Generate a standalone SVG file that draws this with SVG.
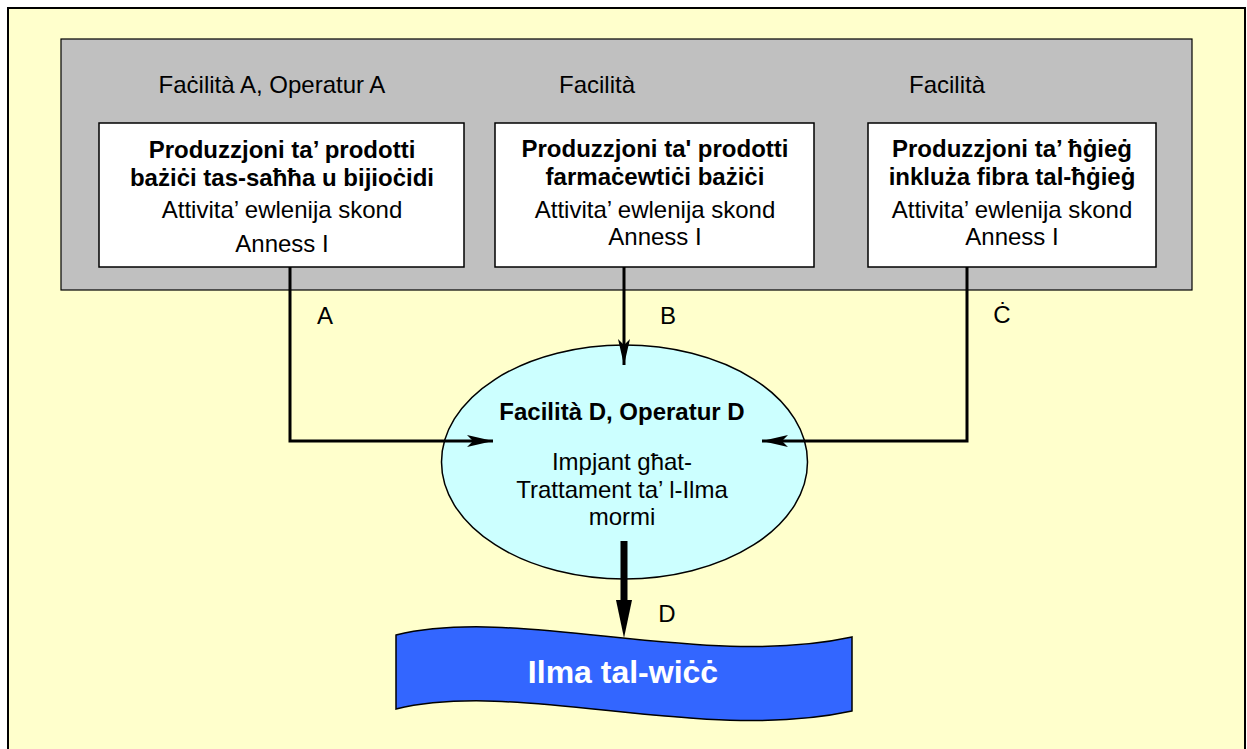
<svg xmlns="http://www.w3.org/2000/svg" width="1247" height="749" viewBox="0 0 1247 749">
<defs>
<style>
.t{font-family:"Liberation Sans",Arial,sans-serif;font-size:24px;fill:#000;text-anchor:middle}
.b{font-weight:bold}
.box{fill:#fff;stroke:#000;stroke-width:1.5}
.con{fill:none;stroke:#000;stroke-width:3}
</style>
<marker id="ah" markerWidth="26" markerHeight="12" refX="26" refY="6" orient="auto" markerUnits="userSpaceOnUse">
<path d="M0,0 L26,6 L0,12 L6,6 Z" fill="#000"/>
</marker>
</defs>
<rect x="8" y="8" width="1237" height="760" fill="#FFFFCC" stroke="#000" stroke-width="2"/>
<g id="group">
<rect x="61" y="39" width="1131" height="251" fill="#C0C0C0" stroke="#000" stroke-width="1.2"/>
<text class="t" x="272" y="93">Faċilità A, Operatur A</text>
<text class="t" x="597" y="93">Facilità</text>
<text class="t" x="947" y="93">Facilità</text>
</g>
<g id="nodeA">
<rect class="box" x="99" y="123" width="365" height="144"/>
<text class="t b" x="282" y="158">Produzzjoni ta’ prodotti</text>
<text class="t b" x="282" y="186">bażiċi tas-saħħa u bijioċidi</text>
<text class="t" x="282" y="218">Attivita’ ewlenija skond</text>
<text class="t" x="282" y="252">Anness I</text>
</g>
<g id="nodeB">
<rect class="box" x="495" y="123" width="319" height="144"/>
<text class="t b" x="655" y="157">Produzzjoni ta' prodotti</text>
<text class="t b" x="655" y="185">farmaċewtiċi bażiċi</text>
<text class="t" x="655" y="218">Attivita’ ewlenija skond</text>
<text class="t" x="655" y="245">Anness I</text>
</g>
<g id="nodeC">
<rect class="box" x="868" y="123" width="288" height="144"/>
<text class="t b" x="1012" y="157">Produzzjoni ta’ ħġieġ</text>
<text class="t b" x="1012" y="185">inkluża fibra tal-ħġieġ</text>
<text class="t" x="1012" y="218">Attivita’ ewlenija skond</text>
<text class="t" x="1012" y="245">Anness I</text>
</g>
<g id="nodeD">
<ellipse cx="624.5" cy="462" rx="183" ry="117" fill="#CCFFFF" stroke="#000" stroke-width="1.5"/>
<text class="t b" x="622" y="420">Facilità D, Operatur D</text>
<text class="t" x="622" y="470">Impjant għat-</text>
<text class="t" x="622" y="498">Trattament ta’ l-Ilma</text>
<text class="t" x="622" y="525">mormi</text>
</g>
<g id="nodeE">
<path d="M396,635 C520,605 700,670 852,637 L852,711 C700,744 520,679 396,709 Z" fill="#3366FF" stroke="#000" stroke-width="1.5"/>
<text class="t b" x="623" y="683" style="font-size:32px;fill:#fff">Ilma tal-wiċċ</text>
</g>
<g id="connectors">
<path class="con" d="M290,267 L290,441 L493,441" marker-end="url(#ah)"/>
<path class="con" d="M624,267 L624,365" marker-end="url(#ah)"/>
<path class="con" d="M967,267 L967,441 L762,441" marker-end="url(#ah)"/>
<path d="M624,541 L624,602" stroke="#000" stroke-width="7" fill="none"/>
<path d="M616,600 L632,600 L624,638 Z" fill="#000"/>
<text class="t" x="325" y="324">A</text>
<text class="t" x="668" y="324">B</text>
<text class="t" x="1002" y="323">Ċ</text>
<text class="t" x="667" y="622">D</text>
</g>
</svg>
